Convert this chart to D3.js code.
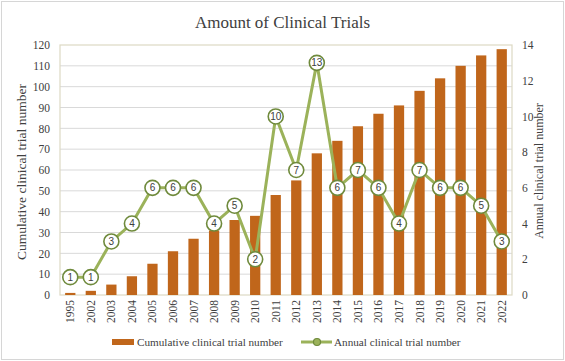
<!DOCTYPE html>
<html>
<head>
<meta charset="utf-8">
<script src="https://cdn.jsdelivr.net/npm/d3@7"></script>
<style>
  body { margin: 0; background: #fff; }
</style>
</head>
<body>
<div id="chart"></div>
<script>
// data
var years = ["1995","2002","2003","2004","2005","2006","2007","2008","2009","2010","2011",
             "2012","2013","2014","2015","2016","2017","2018","2019","2020","2021","2022"];
var cumulative = [1,2,5,9,15,21,27,31,36,38,48,55,68,74,81,87,91,98,104,110,115,118];
var annual = [1,1,3,4,6,6,6,4,5,2,10,7,13,6,7,6,4,7,6,6,5,3];
var leftTicks = [0,10,20,30,40,50,60,70,80,90,100,110,120];
var rightTicks = [0,2,4,6,8,10,12,14];

var svgWidth = 565, svgHeight = 361;
var margin = { top: 45, right: 53, bottom: 66, left: 60 };
var width = svgWidth - margin.left - margin.right;
var height = svgHeight - margin.top - margin.bottom;

var serif = "'Liberation Serif', 'Times New Roman', serif";
var textColor = "#404040";
var barColor = "#c0661b";
var lineColor = "#9bb25a";
var markerStroke = "#6f8a3c";

var svg = d3.select("#chart").append("svg")
  .attr("width", svgWidth)
  .attr("height", svgHeight)
  .attr("font-family", serif);

// outer frame
svg.append("rect")
  .attr("x", 1.5).attr("y", 1.5)
  .attr("width", svgWidth - 3).attr("height", svgHeight - 3)
  .attr("fill", "#fff").attr("stroke", "#d6d6d6");

var chartGroup = svg.append("g")
  .attr("transform", `translate(${margin.left}, ${margin.top})`);

var x = d3.scaleBand().domain(years).range([0, width]).paddingInner(0.5).paddingOuter(0.25);
var yLeft = d3.scaleLinear().domain([0, 120]).range([height, 0]);
var yRight = d3.scaleLinear().domain([0, 14]).range([height, 0]);

// gridlines
chartGroup.append("g")
  .selectAll("line")
  .data(leftTicks.slice(1, -1))
  .enter()
  .append("line")
  .attr("x1", 0).attr("x2", width)
  .attr("y1", d => yLeft(d)).attr("y2", d => yLeft(d))
  .attr("stroke", "#d9d9d9").attr("stroke-width", 1);

// plot area border
chartGroup.append("rect")
  .attr("width", width).attr("height", height)
  .attr("fill", "none").attr("stroke", "#ddd9c3").attr("stroke-width", 1.2);

// axes
var leftAxis = d3.axisLeft(yLeft).tickValues(leftTicks).tickSize(0).tickPadding(10);
var rightAxis = d3.axisRight(yRight).tickValues(rightTicks).tickSize(0).tickPadding(10);
var bottomAxis = d3.axisBottom(x).tickSize(0).tickPadding(5);

var gl = chartGroup.append("g").call(leftAxis);
var gr = chartGroup.append("g").attr("transform", `translate(${width}, 0)`).call(rightAxis);
var gb = chartGroup.append("g").attr("transform", `translate(0, ${height})`).call(bottomAxis);
[gl, gr, gb].forEach(g => {
  g.attr("font-family", serif).attr("font-size", 11.5);
  g.select(".domain").remove();
  g.selectAll("text").attr("fill", textColor);
});
gb.selectAll("text")
  .attr("transform", "rotate(-90)")
  .attr("text-anchor", "end")
  .attr("x", -5).attr("y", 0).attr("dy", "0.35em");

// bars
chartGroup.selectAll(".bar")
  .data(cumulative)
  .enter()
  .append("rect")
  .attr("class", "bar")
  .attr("x", (d, i) => x(years[i]))
  .attr("y", d => yLeft(d))
  .attr("width", x.bandwidth())
  .attr("height", d => height - yLeft(d))
  .attr("fill", barColor);

// line
var cx = i => x(years[i]) + x.bandwidth() / 2;
var line = d3.line().x((d, i) => cx(i)).y(d => yRight(d));
chartGroup.append("path")
  .datum(annual)
  .attr("d", line)
  .attr("fill", "none")
  .attr("stroke", lineColor)
  .attr("stroke-width", 3);

var markers = chartGroup.selectAll(".marker")
  .data(annual)
  .enter()
  .append("g")
  .attr("transform", (d, i) => `translate(${cx(i)}, ${yRight(d)})`);
markers.append("circle")
  .attr("r", 7.5)
  .attr("fill", "#fff")
  .attr("stroke", markerStroke)
  .attr("stroke-width", 1.6);
markers.append("text")
  .attr("text-anchor", "middle")
  .attr("dy", "0.36em")
  .attr("font-family", "'Liberation Sans', Arial, sans-serif")
  .attr("font-size", 10)
  .attr("fill", textColor)
  .text(d => d);

// title
svg.append("text")
  .attr("x", svgWidth / 2).attr("y", 28)
  .attr("text-anchor", "middle")
  .attr("font-size", 17)
  .attr("fill", textColor)
  .text("Amount of Clinical Trials");

// axis titles
svg.append("text")
  .attr("transform", `translate(26, ${margin.top + height / 2 + 2}) rotate(-90)`)
  .attr("text-anchor", "middle")
  .attr("font-size", 13.5)
  .attr("fill", textColor)
  .text("Cumulative clinical trial number");

svg.append("text")
  .attr("transform", `translate(543, ${margin.top + height / 2 + 1}) rotate(-90)`)
  .attr("text-anchor", "middle")
  .attr("font-size", 12)
  .attr("fill", textColor)
  .text("Annual clinical trial number");

// legend
var legend = svg.append("g").attr("transform", "translate(0, 342)");
legend.append("rect")
  .attr("x", 112).attr("y", -3).attr("width", 22).attr("height", 6)
  .attr("fill", barColor);
legend.append("text")
  .attr("x", 137).attr("y", 0).attr("dy", "0.35em")
  .attr("font-size", 11.2)
  .attr("fill", textColor)
  .text("Cumulative clinical trial number");
legend.append("line")
  .attr("x1", 301).attr("x2", 332).attr("y1", 0).attr("y2", 0)
  .attr("stroke", lineColor).attr("stroke-width", 3);
legend.append("circle")
  .attr("cx", 317).attr("cy", 0).attr("r", 3.5)
  .attr("fill", lineColor).attr("stroke", markerStroke).attr("stroke-width", 1.2);
legend.append("text")
  .attr("x", 334).attr("y", 0).attr("dy", "0.35em")
  .attr("font-size", 11.2)
  .attr("fill", textColor)
  .text("Annual clinical trial number");
</script>
</body>
</html>
